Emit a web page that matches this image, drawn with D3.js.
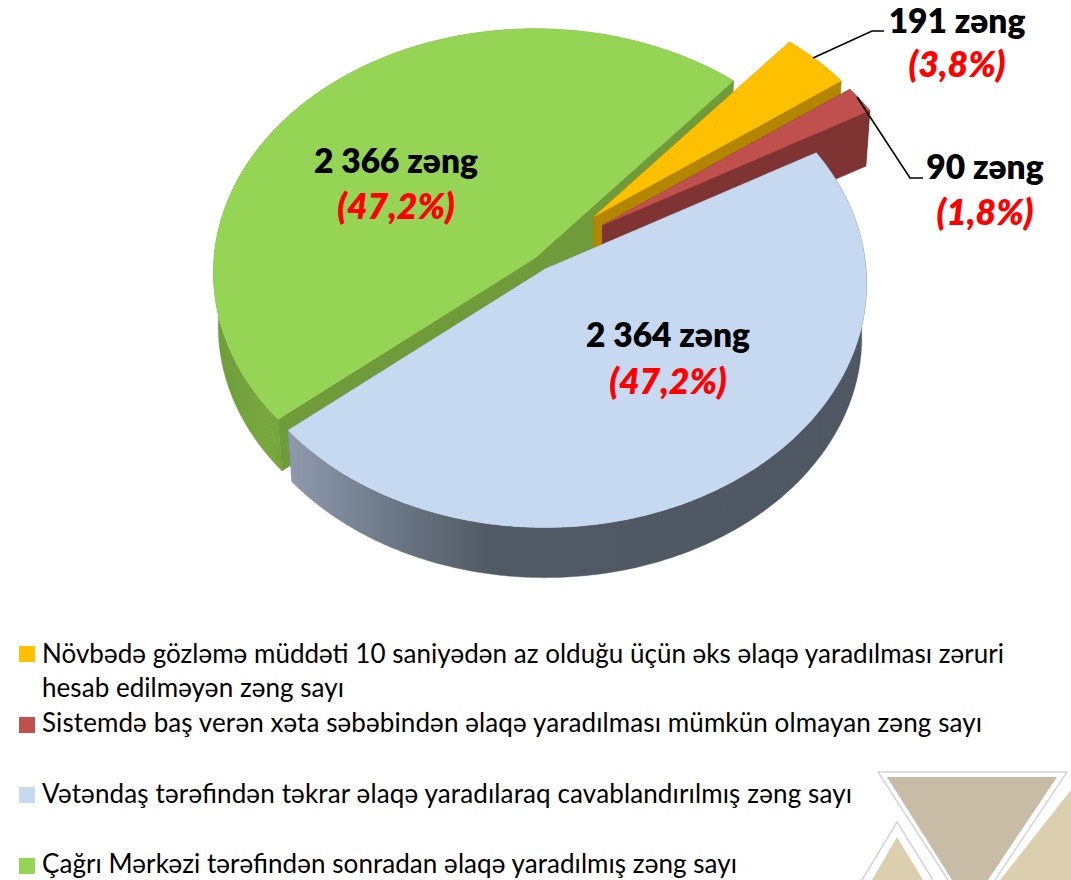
<!DOCTYPE html>
<html lang="az">
<head>
<meta charset="utf-8">
<title>Zəng sayı</title>
<script src="https://cdn.jsdelivr.net/npm/d3@7/dist/d3.min.js"></script>
<style>
html,body{margin:0;padding:0;background:#fff;overflow:hidden}
svg{display:block}
text{font-family:Lato,Carlito,"Open Sans",sans-serif}
</style>
</head>
<body>
<svg id="chart" width="1071" height="880"></svg>
<script>
// ---- data ----
const categories = [
  ["Növbədə gözləmə müddəti 10 saniyədən az olduğu üçün əks əlaqə yaradılması zəruri", "hesab edilməyən zəng sayı"],
  ["Sistemdə baş verən xəta səbəbindən əlaqə yaradılması mümkün olmayan zəng sayı"],
  ["Vətəndaş tərəfindən təkrar əlaqə yaradılaraq cavablandırılmış zəng sayı"],
  ["Çağrı Mərkəzi tərəfindən sonradan əlaqə yaradılmış zəng sayı"]
];
const values = [191, 90, 2364, 2366];
const topColors = ["#FFC000", "#C0504D", "#C6D9F1", "#95D455"];
const cutColors = ["#B38600", "#7F3333", "#77869A", "#6F9B3B"];
const explosion = [0.25, 0.25, 0.055, 0];
const radiusScale = [0.985, 0.985, 1, 1];
const paintOrder = [3, 0, 1, 2];

// ---- layout ----
const base = [535, 258], rx = 321, ry = 243, persp = 0.06, depth = 54, bottomShrink = 0.985;
const startDeg = 40.3;

const svg = d3.select("#chart");
const defs = svg.append("defs");
const color = d3.scaleOrdinal().domain(d3.range(values.length)).range(topColors);
const locale = d3.formatLocale({decimal: ",", thousands: " ", grouping: [3], currency: ["", ""]});
const fmtCount = locale.format(",d");
const fmtPct = locale.format(".1%");
const total = d3.sum(values);

const pie = d3.pie().sort(null).value(d => d)
  .startAngle(startDeg * Math.PI / 180)
  .endAngle((startDeg + 360) * Math.PI / 180);
const arcs = pie(values);

// perspective projection of the tilted disc
function project(apex, theta, r, lower) {
  const u = r * Math.sin(theta), v = r * Math.cos(theta), s = 1 / (1 + persp * v);
  const f = lower ? bottomShrink : 1;
  return [apex[0] + rx * u * s * f, apex[1] + (lower ? depth : 0) - ry * v * s * f];
}
const line = d3.line();
const closed = pts => line(pts) + "Z";

// watermark
const wm = svg.append("g");
wm.append("path").attr("d", "M1071,790L1000,880L1071,880Z").attr("fill", "#DCCFAF");
wm.append("path").attr("d", "M887,777L1057,777L988,880L952,880Z").attr("fill", "#C9BCA6");
wm.append("path").attr("d", "M897,837L872,880L923,880Z").attr("fill", "#DCCFAF");
wm.append("path").attr("d", "M995,880L1067,772L878,772L948,880").attr("fill", "none").attr("stroke", "#D3D4DC").attr("stroke-width", 1.5);
wm.append("path").attr("d", "M862,880L897,822L933,880").attr("fill", "none").attr("stroke", "#D3D4DC").attr("stroke-width", 1.5);

// wall gradients
const grad = (id, stops) => {
  const g = defs.append("linearGradient").attr("id", id).attr("gradientUnits", "userSpaceOnUse")
    .attr("x1", stops[0][0]).attr("x2", stops[stops.length - 1][0]).attr("y1", 0).attr("y2", 0);
  stops.forEach(s => g.append("stop").attr("offset", (s[0] - stops[0][0]) / (stops[stops.length - 1][0] - stops[0][0])).attr("stop-color", s[1]));
  return `url(#${id})`;
};
const blueWall = grad("blueWall", [[292, "#8D98AB"], [380, "#707C8B"], [490, "#515964"], [870, "#4F5762"]]);
const greenWall = grad("greenWall", [[212, "#6E9C3B"], [270, "#79A83E"], [295, "#6F9E3A"]]);
const outerFill = [cutColors[0], cutColors[1], blueWall, greenWall];

const pieG = svg.append("g");
paintOrder.forEach(i => {
  const a = arcs[i];
  const mid = (a.startAngle + a.endAngle) / 2, e = explosion[i], r = radiusScale[i];
  const apex = [base[0] + e * rx * Math.sin(mid), base[1] - e * ry * Math.cos(mid)];
  const n = Math.max(8, Math.round((a.endAngle - a.startAngle) * 90));
  const thetas = d3.range(n + 1).map(j => a.startAngle + (a.endAngle - a.startAngle) * j / n);
  const topArc = thetas.map(t => project(apex, t, r, false));
  const lowArc = thetas.map(t => project(apex, t, r, true));
  const apexLow = [apex[0], apex[1] + depth];
  const g = pieG.append("g");
  const face = (d, fill) => g.append("path").attr("d", d).attr("fill", fill).attr("stroke", fill).attr("stroke-width", 0.4);
  const startCut = () => face(closed([apex, topArc[0], lowArc[0], apexLow]), cutColors[i]);
  const endCut = () => face(closed([apex, topArc[n], lowArc[n], apexLow]), cutColors[i]);
  const startFront = Math.sin(a.startAngle) < 0, endFront = Math.sin(a.endAngle) > 0;
  // back-facing cuts first, then the rim, then front-facing cuts, then the top
  if (!startFront) startCut();
  if (!endFront) endCut();
  face(closed(topArc.concat(lowArc.slice().reverse())), outerFill[i]);
  if (startFront) startCut();
  if (endFront) endCut();
  face(closed([apex].concat(topArc)), color(i));
});

// leader lines
const leaders = [
  [[813, 58], [872, 31], [884, 31]],
  [[857, 97], [910, 178], [923, 178]]
];
svg.append("g").selectAll("path").data(leaders).join("path")
  .attr("d", d => line(d)).attr("fill", "none").attr("stroke", "#000").attr("stroke-width", 1.6);

// data labels
const labelPos = [[957, 33, 77], [985, 179, 225], [668, 347, 394], [396, 173, 219]];
const labels = svg.append("g").attr("text-anchor", "middle");
values.forEach((v, i) => {
  const p = labelPos[i];
  labels.append("text").attr("x", p[0]).attr("y", p[1]).attr("font-size", 33.5).attr("font-weight", 800)
    .attr("fill", "#000").text(fmtCount(v) + " zəng");
  labels.append("text").attr("x", p[0]).attr("y", p[2]).attr("font-size", 35.5).attr("font-weight", 800)
    .attr("font-style", "italic").attr("fill", "#FF0000").text("(" + fmtPct(v / total) + ")");
});

// legend
const legendSwatchY = [646, 717, 787, 858];
const legendTextY = [[663, 697], [732], [803], [873]];
const legendTextW = [[962, 302], [940], [810], [695]];
const legend = svg.append("g");
categories.forEach((lines, i) => {
  legend.append("rect").attr("x", 19).attr("y", legendSwatchY[i]).attr("width", 16).attr("height", 16).attr("fill", color(i));
  lines.forEach((t, j) => legend.append("text").attr("x", 42).attr("y", legendTextY[i][j])
    .attr("font-size", 26).attr("fill", "#000")
    .attr("textLength", legendTextW[i][j]).attr("lengthAdjust", "spacing").text(t));
});
</script>
</body>
</html>
